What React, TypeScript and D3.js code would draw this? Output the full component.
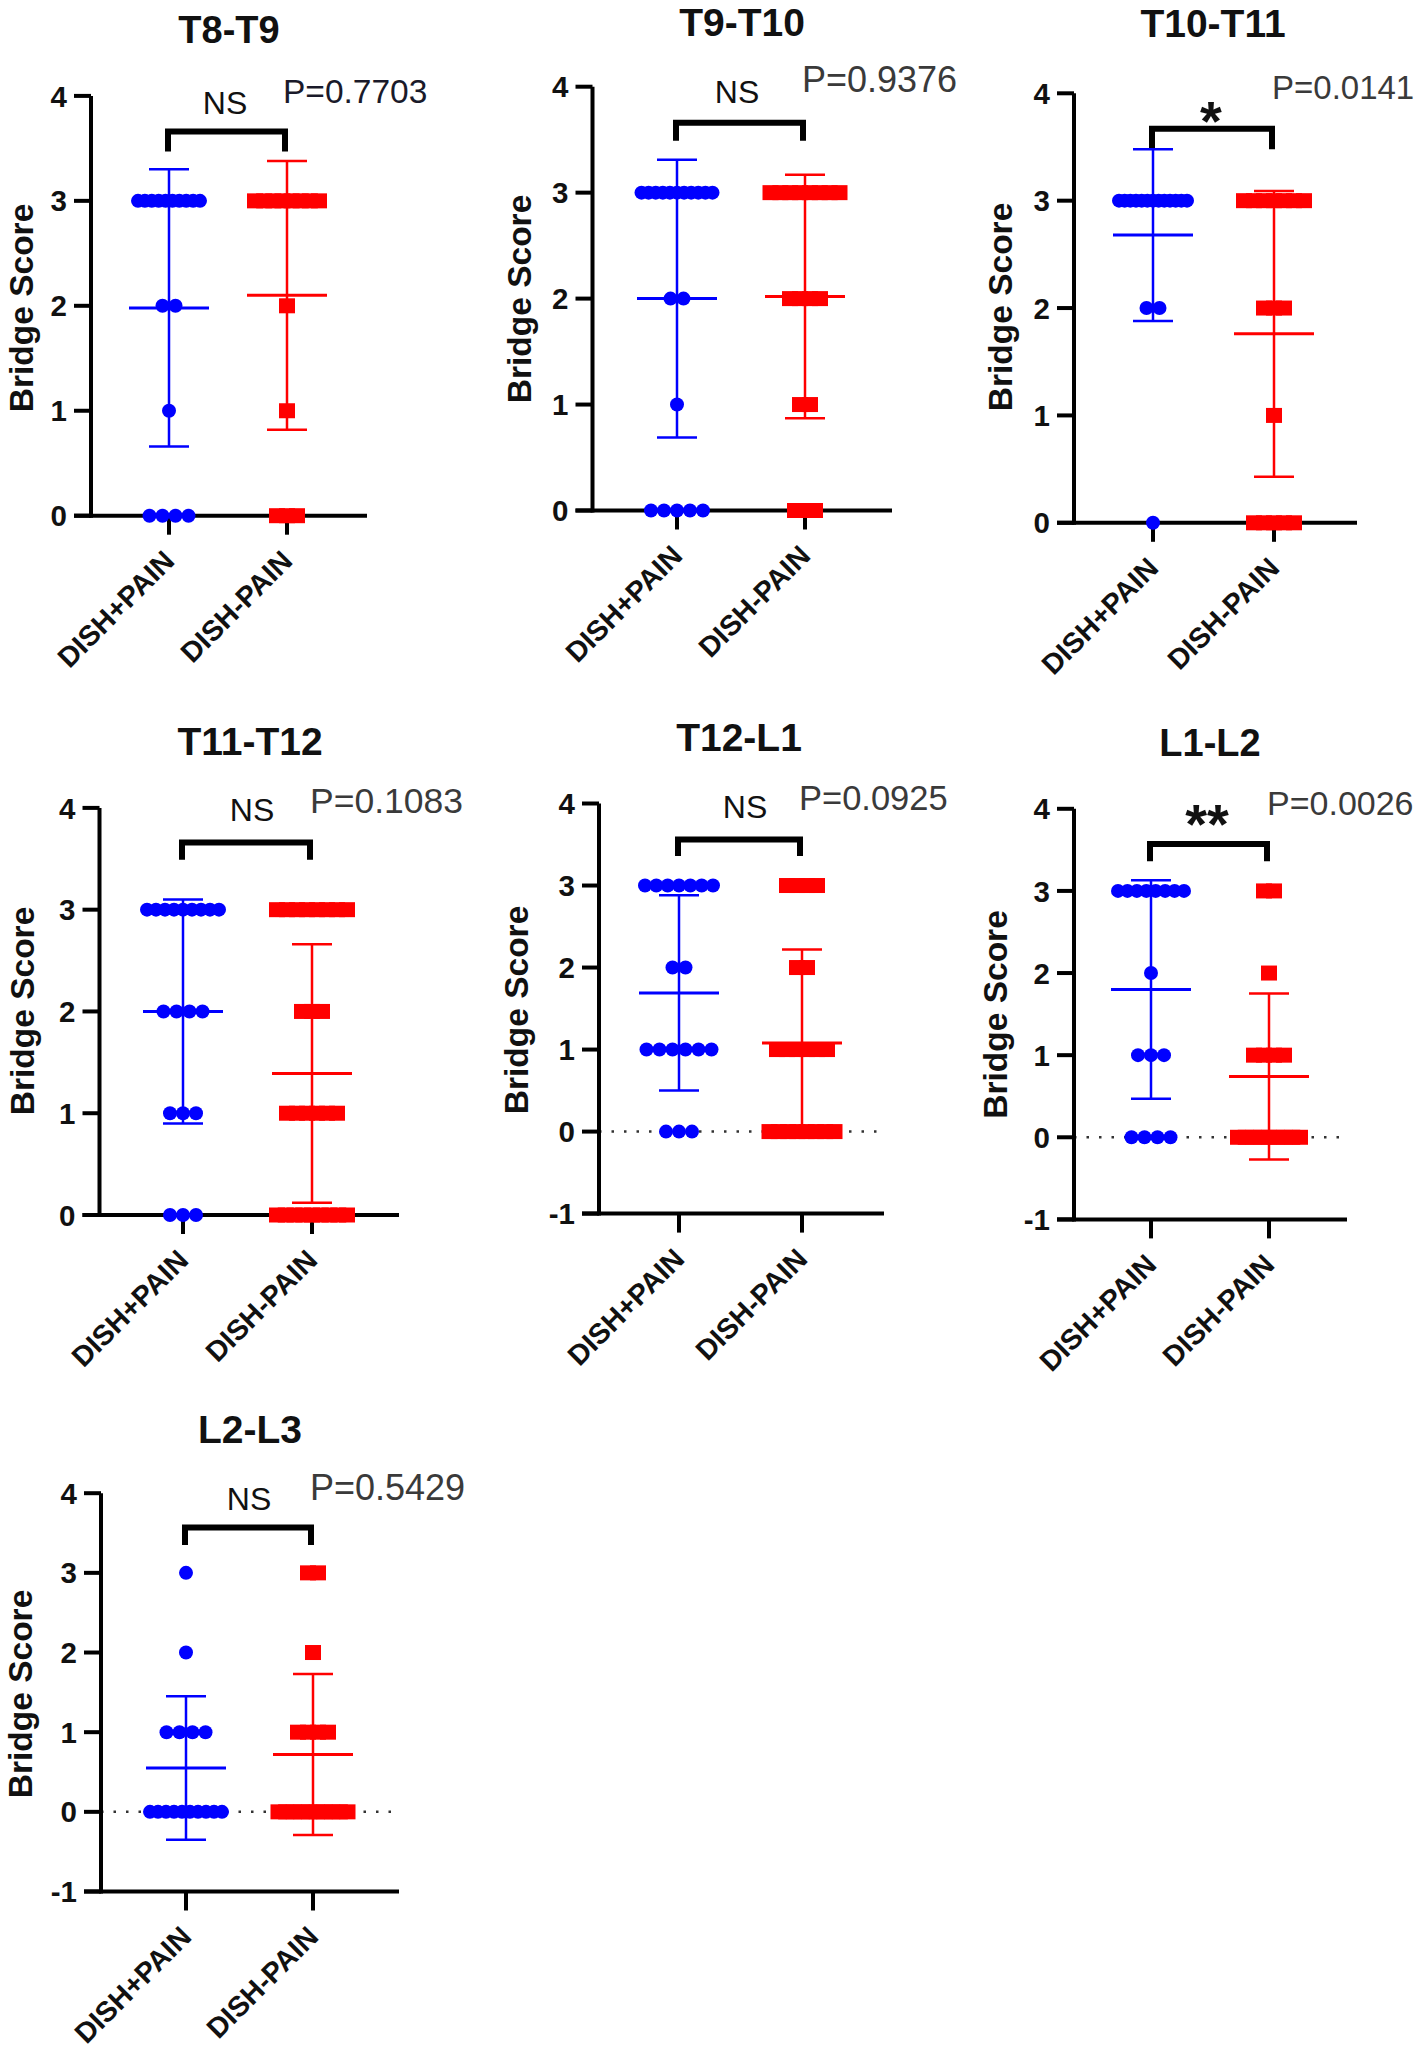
import React from "react";
import * as d3 from "d3";

// ---------- data ----------
const GROUPS = ["DISH+PAIN", "DISH-PAIN"];
const PANEL_TITLES = ["T8-T9", "T9-T10", "T10-T11", "T11-T12", "T12-L1", "L1-L2", "L2-L3"];
const P_VALUES = ["P=0.7703", "P=0.9376", "P=0.0141", "P=0.1083", "P=0.0925", "P=0.0026", "P=0.5429"];
const SIGNIFICANCE = ["NS", "NS", "*", "NS", "NS", "**", "NS"];
const SCORE_LEVELS = [0, 1, 2, 3];
// number of patients at bridge score 0,1,2,3
const PAIN_COUNTS = [
  [4, 1, 2, 10],
  [5, 1, 2, 11],
  [1, 0, 2, 13],
  [3, 3, 4, 9],
  [3, 6, 2, 7],
  [4, 3, 1, 8],
  [10, 4, 1, 1],
];
const NOPAIN_COUNTS = [
  [3, 1, 1, 8],
  [3, 2, 4, 8],
  [5, 1, 3, 7],
  [9, 6, 3, 8],
  [8, 6, 2, 4],
  [9, 4, 1, 2],
  [10, 4, 1, 2],
];
const PAIN_MEAN = [1.98, 2.0, 2.68, 2.0, 1.69, 1.8, 0.55];
const PAIN_SD = [1.32, 1.31, 0.8, 1.1, 1.19, 1.33, 0.9];
const NOPAIN_MEAN = [2.1, 2.02, 1.76, 1.39, 1.08, 0.74, 0.72];
const NOPAIN_SD = [1.28, 1.15, 1.33, 1.27, 1.14, 1.01, 1.01];
const Y_MIN = [0, 0, 0, 0, -1, -1, -1];
const Y_MAX = 4;
const BRACKET_TOP = [3.66, 3.66, 3.67, 3.66, 3.56, 3.57, 3.57];
const BRACKET_LEG = [3.47, 3.49, 3.48, 3.49, 3.36, 3.36, 3.35];
const Y_AXIS_TITLE = "Bridge Score";

// ---------- layout (pixels) ----------
const LAYOUT = [
  { axisX: 91, y4: 95.9, yMin: 515.7, xEnd: 367, cats: [169, 287], title: [229, 42.7, 38], sig: [225, 113.5], p: [283, 103.4, 33.5], yLab: [33, 308], spread: [62, 64] },
  { axisX: 592.5, y4: 86.7, yMin: 510.5, xEnd: 892, cats: [677, 805], title: [742, 36, 39], sig: [737, 102.5], p: [802, 91.5, 36], yLab: [531, 299], spread: [71, 69] },
  { axisX: 1074, y4: 93.3, yMin: 522.8, xEnd: 1357, cats: [1153, 1274], title: [1213, 37.4, 39], sig: [1211, 140], p: [1272, 99, 33], yLab: [1012, 307], spread: [68, 68] },
  { axisX: 99.5, y4: 807.9, yMin: 1215, xEnd: 399, cats: [183, 312], title: [250, 755, 39], sig: [252, 820.7], p: [310, 813.2, 35.5], yLab: [34, 1011], spread: [72, 70] },
  { axisX: 599, y4: 803.5, yMin: 1213.6, xEnd: 884, cats: [679, 802], title: [739, 750.7, 39], sig: [745, 817.6], p: [799, 809.7, 34.5], yLab: [528, 1010], spread: [68, 65] },
  { axisX: 1074, y4: 808.8, yMin: 1219.4, xEnd: 1347, cats: [1151, 1269], title: [1210, 756, 38], sig: [1207, 843], p: [1267, 815.4, 34], yLab: [1007, 1014.5], spread: [66, 62] },
  { axisX: 101, y4: 1493.2, yMin: 1891.5, xEnd: 399, cats: [186, 313], title: [250, 1443.2, 39], sig: [249, 1509.5], p: [310, 1499.7, 36], yLab: [32, 1694], spread: [72, 69] },
];

const FONT = "'Liberation Sans', Arial, Helvetica, sans-serif";
const BLUE = "#0000ff";
const RED = "#ff0000";

function spreadPositions(n: number, base: number, maxSpread: number) {
  if (n <= 1) return [0];
  const s = Math.min(base, maxSpread / (n - 1));
  return d3.range(n).map((i) => (i - (n - 1) / 2) * s);
}

function Panel({ idx }: { idx: number }) {
  const L = LAYOUT[idx];
  const yMinVal = Y_MIN[idx];
  const y = d3.scaleLinear().domain([yMinVal, Y_MAX]).range([L.yMin, L.y4]);
  const x = d3.scaleOrdinal<string, number>().domain(GROUPS).range(L.cats);
  const ticks = d3.range(yMinVal, Y_MAX + 1);
  const groups = [
    { name: GROUPS[0], counts: PAIN_COUNTS[idx], mean: PAIN_MEAN[idx], sd: PAIN_SD[idx], color: BLUE, spread: L.spread[0], base: 13 },
    { name: GROUPS[1], counts: NOPAIN_COUNTS[idx], mean: NOPAIN_MEAN[idx], sd: NOPAIN_SD[idx], color: RED, spread: L.spread[1], base: 10 },
  ];
  const isStar = SIGNIFICANCE[idx] !== "NS";
  const bx1 = x(GROUPS[0]) - 1;
  const bx2 = x(GROUPS[1]) - 2;
  return (
    <g>
      {/* title */}
      <text x={L.title[0]} y={L.title[1]} fontSize={L.title[2]} fontWeight="bold" textAnchor="middle" fontFamily={FONT} fill="#111">
        {PANEL_TITLES[idx]}
      </text>
      {/* y axis title */}
      <text transform={`translate(${L.yLab[0]},${L.yLab[1]}) rotate(-90)`} fontSize={33.5} fontWeight="bold" textAnchor="middle" fontFamily={FONT} fill="#111">
        {Y_AXIS_TITLE}
      </text>
      {/* dotted zero line */}
      <line x1={L.axisX} x2={L.xEnd} y1={y(0)} y2={y(0)} stroke="#333" strokeWidth={2.5} strokeDasharray="2.5 10" />
      {/* axes */}
      <line x1={L.axisX} x2={L.axisX} y1={y(Y_MAX)} y2={y(yMinVal) + 2} stroke="#000" strokeWidth={4} />
      <line x1={L.axisX - 17} x2={L.xEnd} y1={y(yMinVal)} y2={y(yMinVal)} stroke="#000" strokeWidth={4} />
      {ticks.map((t) => (
        <g key={t}>
          <line x1={L.axisX - 17} x2={L.axisX} y1={y(t)} y2={y(t)} stroke="#000" strokeWidth={4} />
          <text x={L.axisX - 24} y={y(t)} dy="0.36em" fontSize={29.5} fontWeight="bold" textAnchor="end" fontFamily={FONT} fill="#111">
            {t}
          </text>
        </g>
      ))}
      {GROUPS.map((gname) => (
        <g key={gname}>
          <line x1={x(gname)} x2={x(gname)} y1={y(yMinVal)} y2={y(yMinVal) + 19} stroke="#000" strokeWidth={4} />
          <text
            transform={`translate(${x(gname) + 7},${y(yMinVal) + 47}) rotate(-45)`}
            fontSize={28.5}
            fontWeight="bold"
            textAnchor="end"
            fontFamily={FONT}
            fill="#111"
          >
            {gname}
          </text>
        </g>
      ))}
      {/* bracket */}
      <path
        d={`M${bx1},${y(BRACKET_LEG[idx])} V${y(BRACKET_TOP[idx])} H${bx2} V${y(BRACKET_LEG[idx])}`}
        fill="none"
        stroke="#000"
        strokeWidth={6}
      />
      {isStar ? (
        <text x={L.sig[0]} y={L.sig[1]} fontSize={56} fontWeight="bold" textAnchor="middle" fontFamily={FONT} fill="#111">
          {SIGNIFICANCE[idx]}
        </text>
      ) : (
        <text x={L.sig[0]} y={L.sig[1]} fontSize={32} textAnchor="middle" fontFamily={FONT} fill="#111">
          {SIGNIFICANCE[idx]}
        </text>
      )}
      <text x={L.p[0]} y={L.p[1]} fontSize={L.p[2]} fontFamily={FONT} fill={idx === 0 ? "#1a1a2a" : "#3a3a3a"}>
        {P_VALUES[idx]}
      </text>
      {/* groups */}
      {groups.map((g) => {
        const cx = x(g.name);
        return (
          <g key={g.name}>
            {/* SD */}
            <line x1={cx} x2={cx} y1={y(g.mean + g.sd)} y2={y(g.mean - g.sd)} stroke={g.color} strokeWidth={2.5} />
            <line x1={cx - 20} x2={cx + 20} y1={y(g.mean + g.sd)} y2={y(g.mean + g.sd)} stroke={g.color} strokeWidth={2.5} />
            <line x1={cx - 20} x2={cx + 20} y1={y(g.mean - g.sd)} y2={y(g.mean - g.sd)} stroke={g.color} strokeWidth={2.5} />
            {/* points */}
            {SCORE_LEVELS.map((lv, li) => {
              if (g.counts[li] === 0) return null;
              const offs = spreadPositions(g.counts[li], g.base, g.spread);
              return offs.map((o, k) =>
                g.color === BLUE ? (
                  <circle key={`${lv}-${k}`} cx={cx + o} cy={y(lv)} r={7} fill={g.color} />
                ) : (
                  <rect key={`${lv}-${k}`} x={cx + o - 8} y={y(lv) - 7.5} width={16} height={15} fill={g.color} />
                )
              );
            })}
            {/* mean */}
            <line x1={cx - 40} x2={cx + 40} y1={y(g.mean)} y2={y(g.mean)} stroke={g.color} strokeWidth={3} />
          </g>
        );
      })}
    </g>
  );
}

export default function App() {
  return (
    <svg
      width={1416}
      height={2050}
      viewBox="0 0 1416 2050"
      style={{ position: "absolute", left: 0, top: 0, display: "block" }}
    >
      <rect x={0} y={0} width={1416} height={2050} fill="#fff" />
      {PANEL_TITLES.map((_, i) => (
        <Panel key={i} idx={i} />
      ))}
    </svg>
  );
}
